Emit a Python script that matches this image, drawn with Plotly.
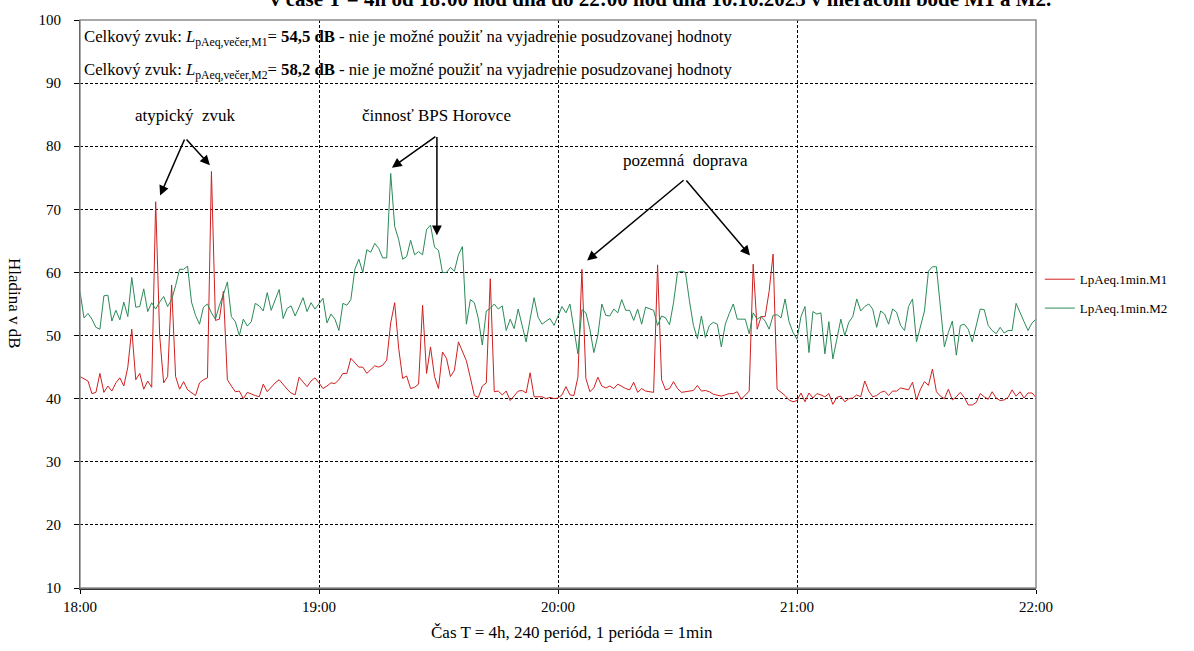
import plotly.graph_objects as go

# Time axis: one value per minute from 18:00 to 22:00
minutes = list(range(241))
tick_minutes = [0, 60, 120, 180, 240]
tick_labels = ["18:00", "19:00", "20:00", "21:00", "22:00"]
y_ticks = [10, 20, 30, 40, 50, 60, 70, 80, 90, 100]

# LpAeq,1min at measuring point M1 (dB)
lp_m1 = [
    43.5, 43.2, 42.8, 40.8, 41.0, 44.0, 41.0, 42.0, 41.2, 42.5,
    43.3, 42.0, 45.0, 51.0, 43.0, 44.0, 41.5, 42.8, 41.8, 71.2,
    50.0, 42.5, 43.5, 58.0, 43.5, 41.5, 42.7, 41.4, 41.0, 40.5,
    42.5, 43.0, 43.3, 76.0, 52.4, 52.6, 57.0, 43.0, 42.0, 41.1,
    41.2, 40.0, 41.0, 40.7, 40.5, 40.3, 42.3, 41.1, 41.8, 42.5,
    43.0, 42.2, 41.5, 40.9, 40.6, 43.4, 42.7, 41.9, 42.8, 43.3,
    42.5, 41.6, 42.0, 42.5, 42.4, 43.0, 44.0, 44.0, 46.4, 45.7,
    45.0, 45.0, 44.0, 44.6, 45.2, 45.0, 45.3, 46.1, 52.0, 55.2,
    48.0, 43.2, 43.6, 41.6, 41.8, 42.3, 54.8, 44.0, 48.2, 43.5,
    41.6, 47.4, 46.4, 43.5, 44.5, 49.0, 47.5, 46.0, 43.3, 40.5,
    40.2, 42.0, 42.5, 59.0, 41.1, 41.2, 40.6, 41.2, 39.7, 40.5,
    41.2, 41.3, 40.9, 44.1, 40.3, 40.3, 40.3, 40.0, 40.2, 40.0,
    40.1, 40.6, 41.9, 40.6, 40.5, 43.4, 60.5, 43.2, 41.1, 41.7,
    43.4, 42.0, 41.7, 42.0, 41.6, 42.3, 41.9, 41.6, 41.4, 42.6,
    41.0, 41.6, 41.2, 41.1, 41.0, 61.2, 43.0, 41.4, 41.6, 42.7,
    41.6, 41.0, 41.1, 41.1, 41.3, 42.1, 41.2, 41.3, 41.1, 40.7,
    40.6, 40.4, 40.6, 40.8, 40.8, 41.1, 39.9, 40.6, 41.2, 61.3,
    51.0, 53.0, 53.0, 57.0, 62.9, 41.5, 41.0, 40.5, 39.8, 39.5,
    39.7, 40.9, 39.5, 40.9, 40.1, 40.8, 40.6, 40.3, 40.8, 39.1,
    40.2, 40.4, 39.5, 40.0, 40.1, 40.6, 40.3, 42.8, 41.2, 40.3,
    40.5, 41.0, 41.2, 40.5, 41.2, 41.2, 41.7, 41.5, 41.4, 42.6,
    39.8, 41.5, 42.7, 42.1, 44.7, 41.1, 40.4, 40.0, 41.5, 39.8,
    40.3, 41.0, 40.2, 39.0, 39.0, 39.4, 40.8, 40.3, 39.9, 41.1,
    40.1, 39.7, 39.8, 40.2, 41.4, 40.4, 41.1, 40.1, 40.9, 40.9,
    40.2,
]

# LpAeq,1min at measuring point M2 (dB)
lp_m2 = [
    57.0, 52.8, 53.5, 52.6, 51.3, 51.0, 56.3, 56.4, 52.3, 54.0,
    52.5, 55.3, 53.0, 59.2, 54.5, 54.6, 57.4, 53.8, 55.2, 54.2,
    55.3, 56.2, 54.6, 55.7, 57.9, 60.5, 60.5, 61.0, 55.3, 53.2,
    51.8, 54.5, 55.0, 53.6, 52.6, 54.8, 56.5, 58.5, 53.0, 52.2,
    50.0, 52.6, 51.5, 52.2, 55.1, 54.7, 53.9, 56.8, 54.0, 55.5,
    57.3, 52.7, 54.3, 54.7, 53.1, 54.5, 56.0, 53.8, 55.2, 54.2,
    55.0, 55.9, 52.0, 53.4, 52.6, 50.8, 55.1, 54.8, 55.7, 60.5,
    62.1, 60.0, 63.6, 63.2, 64.6, 63.8, 62.3, 62.3, 75.7, 67.3,
    65.2, 62.1, 62.5, 65.1, 62.8, 63.3, 62.8, 66.8, 67.5, 64.0,
    63.5, 60.0, 60.0, 60.8, 60.2, 62.8, 64.1, 51.8, 55.7, 55.2,
    52.7, 48.5, 53.9, 54.3, 55.0, 54.2, 54.7, 50.8, 52.6, 51.1,
    54.2, 51.6, 49.0, 52.6, 56.0, 52.9, 51.8, 52.3, 52.7, 51.6,
    53.1, 54.6, 53.6, 55.0, 51.0, 47.1, 54.1, 53.6, 51.0, 47.3,
    50.0, 55.0, 53.2, 53.1, 54.2, 53.6, 55.7, 54.0, 54.0, 52.4,
    54.2, 51.8, 54.5, 54.3, 54.0, 51.6, 53.1, 52.8, 51.7, 55.2,
    60.0, 60.2, 60.0, 55.5, 51.6, 49.5, 53.1, 49.7, 51.6, 52.1,
    51.8, 48.2, 51.8, 53.5, 55.0, 52.6, 52.6, 52.6, 50.3, 53.6,
    52.6, 53.0, 52.3, 51.0, 53.2, 53.3, 52.8, 55.8, 52.2, 50.5,
    49.4, 53.0, 54.6, 47.3, 53.8, 53.4, 53.6, 47.1, 52.2, 46.3,
    49.4, 52.6, 50.0, 52.1, 53.0, 55.8, 53.9, 54.6, 55.0, 54.2,
    51.3, 53.9, 53.4, 51.8, 54.2, 53.7, 51.6, 50.8, 54.6, 55.8,
    49.0, 51.6, 53.9, 60.2, 60.9, 60.9, 54.2, 48.2, 50.5, 52.3,
    46.9, 51.6, 51.8, 51.0, 49.0, 51.6, 54.2, 54.1, 51.6, 50.8,
    50.3, 51.3, 50.4, 50.8, 50.8, 55.1, 53.5, 52.2, 50.8, 52.0,
    52.6,
]

SERIF = "Liberation Serif"

fig = go.Figure()
fig.add_trace(go.Scatter(
    x=minutes, y=lp_m1, mode="lines", name="LpAeq.1min.M1",
    legendgroup="m1", line=dict(color="#d01f1f", width=1),
))
fig.add_trace(go.Scatter(
    x=minutes, y=lp_m2, mode="lines", name="LpAeq.1min.M2",
    legendgroup="m2", line=dict(color="#2b8a57", width=1),
))

# Plot-area frame
fig.add_shape(type="rect", xref="paper", yref="paper", x0=0, y0=0, x1=1, y1=1,
              line=dict(color="#8c8c8c", width=1.5), layer="above")

# Overall sound level notes
notes = [
    ("Celkový zvuk: <i>L</i><sub>pAeq,večer,M1</sub>= <b>54,5 dB</b> - nie je možné použiť na vyjadrenie posudzovanej hodnoty", 97.2),
    ("Celkový zvuk: <i>L</i><sub>pAeq,večer,M2</sub>= <b>58,2 dB</b> - nie je možné použiť na vyjadrenie posudzovanej hodnoty", 91.9),
]
for txt, yv in notes:
    fig.add_annotation(x=0.4, y=yv, xref="x", yref="y", text=txt, showarrow=False,
                       xanchor="left", yanchor="middle",
                       font=dict(family=SERIF, size=16.7, color="black"))

# Event labels with pointer arrows: (label, text x, text y, tail x, tail y, heads)
events = [
    ("atypický  zvuk", 26.4, 84.9, 26.4, 81.3, [(20.1, 72.2), (32.6, 77.0)]),
    ("činnosť BPS Horovce", 89.6, 84.9, 89.6, 81.7, [(78.3, 76.6), (89.6, 65.9)]),
    ("pozemná  doprava", 151.9, 77.7, 151.9, 74.8, [(127.3, 61.9), (168.2, 62.7)]),
]
for label, tx, ty, ax0, ay0, heads in events:
    fig.add_annotation(x=tx, y=ty, xref="x", yref="y", text=label, showarrow=False,
                       font=dict(family=SERIF, size=17, color="black"))
    for hx, hy in heads:
        fig.add_annotation(x=hx, y=hy, ax=ax0, ay=ay0, xref="x", yref="y",
                           axref="x", ayref="y", text="", showarrow=True,
                           arrowhead=2, arrowsize=1.3, arrowwidth=1.5,
                           arrowcolor="black")

# Heading line at the top edge
fig.add_annotation(x=0.607, y=1.037, xref="paper", yref="paper",
                   text="<b>v čase T = 4h od 18:00 hod dňa do 22:00 hod dňa 10.10.2023 v meracom bode M1 a M2.</b>",
                   showarrow=False, xanchor="center", yanchor="middle",
                   font=dict(family=SERIF, size=21, color="black"))

# Y-axis title, reading top to bottom
fig.add_annotation(x=-0.068, y=0.5, xref="paper", yref="paper", text="Hladina v dB",
                   textangle=90, showarrow=False, xanchor="center", yanchor="middle",
                   font=dict(family=SERIF, size=17, color="black"))

# X-axis title
fig.add_annotation(x=0.515, y=-0.0787, xref="paper", yref="paper",
                   text="Čas T = 4h, 240 periód, 1 perióda = 1min",
                   showarrow=False, xanchor="center", yanchor="middle",
                   font=dict(family=SERIF, size=17, color="black"))

fig.update_layout(
    width=1194, height=651,
    margin=dict(l=80, r=158, t=16, b=63),
    paper_bgcolor="white", plot_bgcolor="white",
    font=dict(family=SERIF, size=15, color="black"),
    showlegend=True,
    legend=dict(x=1.004, y=0.57, xanchor="left", yanchor="top",
                font=dict(family=SERIF, size=13), tracegroupgap=9,
                bgcolor="rgba(0,0,0,0)", itemwidth=30),
    xaxis=dict(
        range=[0, 240], tickvals=tick_minutes, ticktext=tick_labels,
        showgrid=True, gridcolor="black", gridwidth=1, griddash="3px,2px",
        showline=True, linecolor="#333333", linewidth=2,
        ticks="outside", ticklen=4, tickcolor="black",
        tickfont=dict(family=SERIF, size=15),
        zeroline=False,
    ),
    yaxis=dict(
        range=[10, 100], tickvals=y_ticks,
        showgrid=True, gridcolor="black", gridwidth=1, griddash="3px,2px",
        showline=True, linecolor="black", linewidth=1,
        ticks="outside", ticklen=5, tickcolor="black",
        ticklabelstandoff=10,
        tickfont=dict(family=SERIF, size=15),
        zeroline=False,
    ),
)

fig.write_html("out.html")
